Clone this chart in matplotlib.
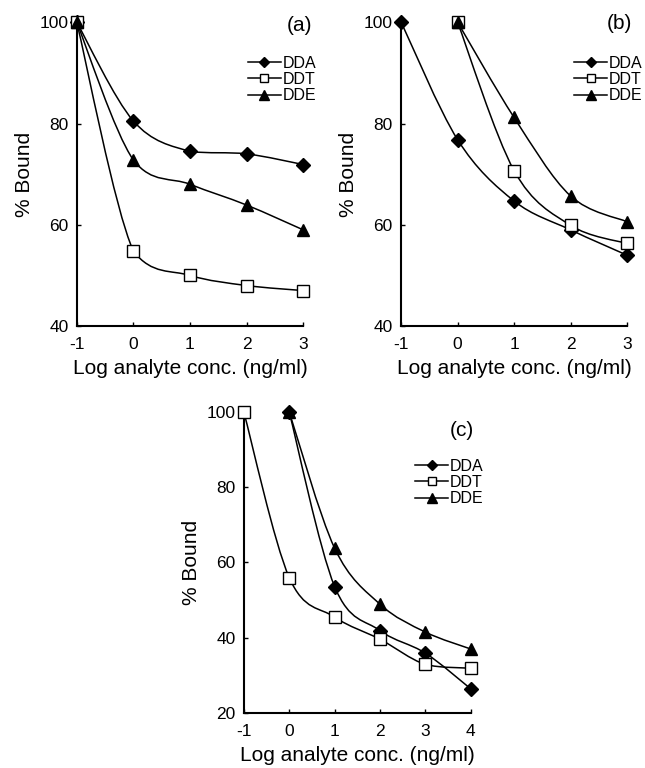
import numpy as np
import matplotlib.pyplot as plt
from matplotlib.path import Path
from matplotlib.patches import PathPatch
from matplotlib.lines import Line2D

plt.rcParams['font.family'] = ['Liberation Sans', 'DejaVu Sans']
plt.rcParams['axes.unicode_minus'] = False

names = ["DDA", "DDT", "DDE"]

# panel (a)
xa = [-1, 0, 1, 2, 3]
a_dda = [100, 80.5, 74.5, 74.0, 71.9]
a_ddt = [100, 54.8, 50.0, 48.0, 47.0]
a_dde = [100, 72.8, 68.0, 63.9, 59.0]

# panel (b)
xb_dda = [-1, 0, 1, 2, 3]
b_dda = [100, 76.8, 64.7, 59.0, 54.0]
xb_other = [0, 1, 2, 3]
b_ddt = [100, 70.7, 59.9, 56.3]
b_dde = [100, 81.2, 65.7, 60.6]

# panel (c)
xc_dda = [0, 1, 2, 3, 4]
c_dda = [100, 53.6, 41.9, 35.9, 26.4]
xc_ddt = [-1, 0, 1, 2, 3, 4]
c_ddt = [100, 56.0, 45.5, 39.6, 32.9, 31.9]
xc_dde = [0, 1, 2, 3, 4]
c_dde = [100, 63.8, 48.9, 41.5, 37.0]

markers = {"DDA": dict(marker='D', ms=6.8, mfc='black'),
           "DDT": dict(marker='s', ms=8, mfc='white'),
           "DDE": dict(marker='^', ms=8.5, mfc='black')}


def smooth(ax, x, y):
    # excel-like smoothed line through the points (bezier segments)
    p = np.column_stack([x, y]).astype(float)
    n = len(p)
    verts = [p[0]]
    codes = [Path.MOVETO]
    for i in range(n - 1):
        p0 = p[i - 1] if i > 0 else p[i]
        p3 = p[i + 2] if i + 2 < n else p[i + 1]
        c1 = p[i] + (p[i + 1] - p0) / 6
        c2 = p[i + 1] - (p3 - p[i]) / 6
        lo, hi = min(p[i][1], p[i + 1][1]), max(p[i][1], p[i + 1][1])
        c1[1] = np.clip(c1[1], lo, hi)
        c2[1] = np.clip(c2[1], lo, hi)
        verts += [c1, c2, p[i + 1]]
        codes += [Path.CURVE4] * 3
    ax.add_patch(PathPatch(Path(verts, codes), fc='none', ec='black', lw=1.1))


def series(ax, x, y, name):
    smooth(ax, x, y)
    ax.plot(x, y, ls='none', color='black', mec='black', mew=1.0,
            clip_on=False, zorder=5, **markers[name])


def style(ax, xlim, ylim, letter, lx, ly, leg_anchor):
    ax.set_xlim(*xlim)
    ax.set_ylim(*ylim)
    ax.set_xticks(range(xlim[0], xlim[1] + 1))
    ax.set_yticks(range(ylim[0], ylim[1] + 1, 20))
    for s in ['top', 'right']:
        ax.spines[s].set_visible(False)
    for s in ['left', 'bottom']:
        ax.spines[s].set_linewidth(1.5)
    ax.tick_params(direction='in', length=3, width=1, labelsize=12.5)
    ax.tick_params(axis='x', pad=8)
    ax.tick_params(axis='y', pad=6)
    ax.set_ylabel("% Bound", fontsize=15, labelpad=4)
    ax.set_xlabel("Log analyte conc. (ng/ml)", fontsize=15, labelpad=5)
    ax.text(lx, ly, letter, transform=ax.transAxes, fontsize=15,
            ha='center', va='center')
    handles = [Line2D([], [], color='black', lw=1.1, mec='black', **markers[n])
               for n in names]
    handles[0].set_markersize(5)
    handles[1].set_markersize(5.5)
    handles[2].set_markersize(6.5)
    ax.legend(handles, names, loc='upper left', bbox_to_anchor=leg_anchor,
              frameon=False, fontsize=11.5, handlelength=2.1,
              handletextpad=0.1, labelspacing=0.08, borderpad=0,
              borderaxespad=0)


fig = plt.figure(figsize=(6.45, 7.68), dpi=100)

ax1 = fig.add_axes([0.119, 0.5755, 0.351, 0.3955])
series(ax1, xa, a_dda, "DDA")
series(ax1, xa, a_ddt, "DDT")
series(ax1, xa, a_dde, "DDE")
style(ax1, (-1, 3), (40, 100), "(a)", 0.985, 0.99, (0.755, 0.89))

ax2 = fig.add_axes([0.622, 0.5755, 0.350, 0.3955])
series(ax2, xb_dda, b_dda, "DDA")
series(ax2, xb_other, b_ddt, "DDT")
series(ax2, xb_other, b_dde, "DDE")
style(ax2, (-1, 3), (40, 100), "(b)", 0.965, 0.995, (0.765, 0.89))

ax3 = fig.add_axes([0.378, 0.0716, 0.352, 0.392])
series(ax3, xc_dda, c_dda, "DDA")
series(ax3, xc_ddt, c_ddt, "DDT")
series(ax3, xc_dde, c_dde, "DDE")
style(ax3, (-1, 4), (20, 100), "(c)", 0.96, 0.937, (0.753, 0.845))

fig.savefig("out.png", dpi=100)
